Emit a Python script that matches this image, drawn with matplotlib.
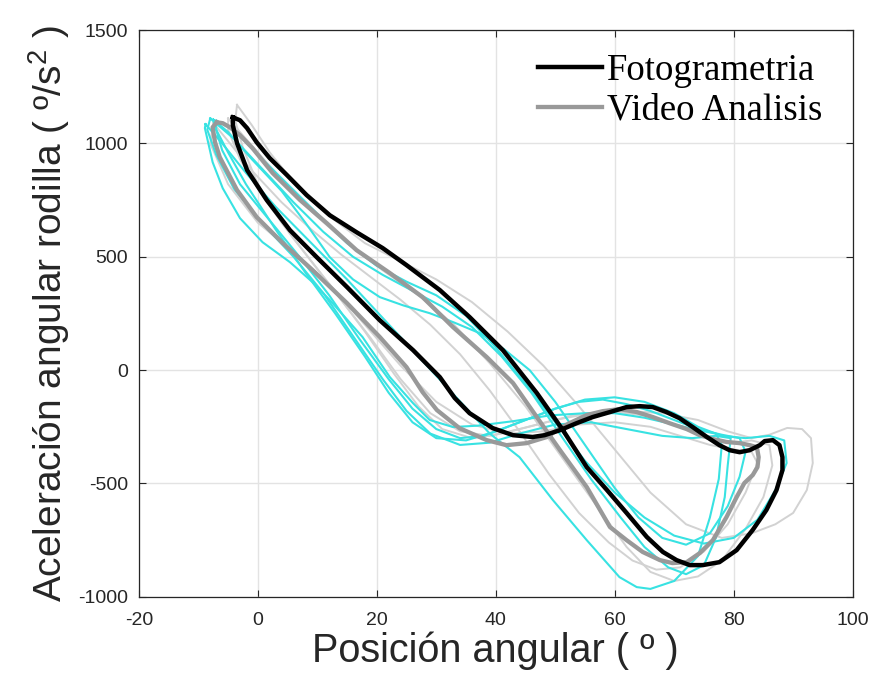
import numpy as np
import matplotlib.pyplot as plt

plt.rcParams['axes.unicode_minus'] = False
plt.rcParams['mathtext.fontset'] = 'custom'
plt.rcParams['mathtext.rm'] = 'Liberation Sans'

# Fotogrametria (black) loop: posicion (deg), aceleracion (deg/s^2)
foto_x = [-4.2, -3.0, -1.8, -0.2, 2.0, 4.9, 8.2, 12.1, 16.6, 21.0, 25.0, 30.6, 35.6, 41.2,
          46.9, 51.3, 55.3, 58.7, 62.0, 65.4, 68.1, 70.4, 72.6, 74.8, 77.6, 80.5, 83.2, 85.5,
          87.2, 88.2, 88.2, 87.7, 86.6, 85.2, 84.4, 82.7, 81.0, 79.3, 77.6, 75.5, 73.1, 70.9,
          68.7, 66.4, 64.2, 62.0, 59.2, 56.3, 53.6, 50.8, 48.2, 46.2, 42.9, 39.5, 35.6, 33.1,
          30.6, 26.1, 20.5, 15.0, 9.9, 5.4, 1.5, -1.8, -3.5, -4.2, -4.2]
foto_y = [1115, 1102, 1067, 1005, 935, 860, 772, 683, 608, 538, 463, 353, 234, 88,
          -101, -265, -428, -529, -630, -736, -802, -838, -860, -860, -847, -794, -705, -617,
          -529, -441, -384, -331, -309, -313, -331, -353, -362, -353, -331, -295, -251, -212,
          -185, -163, -159, -163, -185, -207, -234, -265, -287, -295, -287, -256, -190, -123,
          -31, 88, 220, 366, 498, 617, 750, 882, 1001, 1080, 1115]

# Video Analisis (dark gray) loop
video_x = [-6.9, -5.9, -4.7, -3.0, -0.9, 2.5, 7.1, 11.6, 16.6, 22.2, 27.7, 32.8, 38.5, 42.9,
           46.9, 50.8, 55.3, 59.2, 62.0, 64.7, 67.6, 69.7, 72.1, 74.3, 76.5, 78.8, 80.5, 81.8,
           83.2, 84.0, 84.2, 83.9, 82.7, 81.0, 78.8, 76.5, 74.3, 72.1, 69.2, 66.4, 63.7, 60.8,
           58.0, 55.3, 52.4, 50.8, 48.6, 45.2, 41.8, 38.5, 33.9, 30.1, 27.7, 25.0, 20.5, 15.0,
           9.2, 4.2, -0.2, -3.5, -6.4, -7.2, -7.6, -6.9]
video_y = [1093, 1089, 1071, 1036, 979, 869, 750, 648, 529, 428, 322, 190, 57, -57,
           -207, -353, -516, -692, -750, -802, -838, -851, -847, -807, -750, -648, -560, -498,
           -463, -428, -384, -340, -331, -322, -317, -304, -287, -260, -234, -207, -185, -172,
           -181, -198, -234, -256, -295, -322, -331, -309, -256, -176, -97, 13, 146, 295,
           441, 560, 675, 794, 939, 1005, 1071, 1093]

# individual trials, cyan
cyan1_x = [-8.8, -6, -2, 3, 9, 15, 21, 27, 33, 39, 44, 49.6, 55.3, 60.8, 63.7, 66, 70, 74, 76,
           77.5, 78, 77, 74, 70, 65, 60, 55, 49, 43, 37, 32.8, 28.9, 26.1, 22.2, 17.6, 12.1,
           9.2, 5.4, 0.8, -3, -5.9, -7.6, -8.9, -8.8]
cyan1_y = [1085, 1000, 870, 720, 560, 400, 230, 60, -110, -280, -384, -573, -750, -913, -957,
           -965, -930, -820, -650, -480, -330, -280, -265, -240, -210, -190, -190, -200, -225,
           -245, -251, -220, -146, -31, 146, 309, 388, 476, 564, 670, 802, 917, 1067, 1085]

cyan2_x = [-7, -4, 0, 5, 10, 15, 20, 25, 30, 35, 40, 45, 50, 55, 60, 65, 70, 75, 80, 84, 87,
           88.9, 88.5, 86, 82, 78, 74, 70, 65, 60, 55, 50, 45, 40, 35, 30, 26, 22, 18, 13, 8,
           3, -2, -5, -7, -7]
cyan2_y = [1100, 1060, 950, 820, 690, 560, 460, 390, 330, 240, 100, -60, -230, -400, -540,
           -650, -730, -765, -740, -660, -530, -410, -310, -290, -300, -290, -250, -190, -140,
           -120, -130, -170, -220, -270, -310, -300, -230, -100, 60, 250, 430, 620, 820, 960,
           1060, 1100]

cyan3_x = [-7.5, -5, -1, 4, 8, 12.1, 16, 20.5, 24.5, 28.9, 33, 37.3, 41.5, 45.7, 50, 55, 60,
           64, 68, 72, 76, 79, 81, 82, 81, 78, 74, 70, 66, 62, 58, 54, 50, 46, 42, 38, 34,
           30, 26, 22, 17, 12, 7, 2, -3, -6, -7.5]
cyan3_y = [1105, 1050, 930, 790, 650, 498, 400, 322, 285, 251, 210, 163, 90, 0, -140, -330,
           -520, -650, -740, -770, -720, -600, -470, -360, -300, -285, -260, -220, -180, -150,
           -130, -140, -170, -210, -250, -290, -300, -260, -170, -40, 140, 330, 500, 660, 820,
           970, 1105]

cyan4_x = [-8, -4, 1, 6, 11, 16, 21, 26, 31, 36, 41, 46, 51, 56, 61, 65, 69, 72, 75, 77, 78.5,
           79, 79.5, 77, 73, 68, 62, 56, 50, 44, 39, 34, 29, 25, 21, 16, 11, 6, 1, -4, -7,
           -8.5, -8]
cyan4_y = [1110, 1020, 880, 740, 610, 500, 420, 350, 280, 190, 60, -100, -290, -480, -650,
           -780, -870, -900, -860, -740, -560, -420, -300, -290, -300, -290, -260, -230, -240,
           -280, -320, -330, -280, -180, -40, 150, 340, 500, 640, 800, 950, 1060, 1110]

# individual trials, light gray
gray1_x = [-3.5, -1, 2, 6, 12, 18, 24, 30, 36, 42, 48, 54, 60, 66, 72, 78, 83, 87, 90, 92.3,
           93.3, 93.0, 91.5, 89, 86, 83, 79, 74, 68, 62, 56, 50, 44, 39, 34, 29, 24, 19, 14,
           9, 4, 0, -2.5, -3.8, -3.5]
gray1_y = [1170, 1080, 960, 830, 680, 560, 480, 400, 300, 170, 20, -160, -350, -540, -680,
           -740, -720, -680, -630, -529, -410, -300, -260, -255, -285, -300, -270, -220, -190,
           -180, -190, -220, -260, -290, -270, -190, -40, 140, 310, 480, 650, 820, 980, 1100,
           1170]

gray2_x = [-5, -2, 3, 9, 15, 21, 27, 33, 39, 45, 51, 57, 62, 66, 70, 74, 78, 82, 85, 86.5, 86,
           83, 80, 76, 71, 65, 59, 53, 47, 41, 36, 31, 27, 23, 18, 12, 6, 1, -3, -5, -5]
gray2_y = [1110, 1020, 870, 700, 560, 440, 330, 200, 30, -160, -380, -600, -780, -890, -930,
           -910, -840, -700, -560, -420, -330, -310, -320, -300, -250, -200, -180, -200, -240,
           -280, -300, -260, -160, -20, 170, 380, 580, 760, 930, 1060, 1110]

gray3_x = [-7.5, -5, -1, 4, 9, 14, 19, 24, 29, 34, 39, 44, 49, 54, 59, 63, 67, 71, 75, 79, 82,
           84, 83, 80, 76, 71, 66, 60, 54, 48, 42, 36, 30, 24, 18, 12, 6, 0, -5, -8, -7.5]
gray3_y = [1090, 1010, 880, 740, 620, 510, 410, 310, 200, 70, -90, -270, -460, -630, -760,
           -840, -880, -870, -800, -680, -540, -410, -360, -350, -330, -290, -250, -230, -240,
           -270, -280, -240, -140, 20, 200, 380, 520, 650, 820, 1000, 1090]

plt.figure(figsize=(8.79, 6.9), dpi=100)
ax = plt.axes([0.158, 0.135, 0.812, 0.8215])

for gx, gy in [(gray1_x, gray1_y), (gray2_x, gray2_y), (gray3_x, gray3_y)]:
    ax.plot(gx, gy, color='#d2d2d2', linewidth=1.4, solid_joinstyle='round')
for cx, cy in [(cyan1_x, cyan1_y), (cyan2_x, cyan2_y), (cyan3_x, cyan3_y), (cyan4_x, cyan4_y)]:
    ax.plot(cx, cy, color='#38e2e2', linewidth=1.5, solid_joinstyle='round')

ax.plot(video_x, video_y, color='#999999', linewidth=3.1, label='Video Analisis', zorder=4,
        solid_joinstyle='round')
ax.plot(foto_x, foto_y, color='black', linewidth=3.2, label='Fotogrametria', zorder=5,
        solid_joinstyle='round')

ax.set_xlim(-20, 100)
ax.set_ylim(-1000, 1500)
ax.set_xticks(np.arange(-20, 101, 20))
ax.set_yticks(np.arange(-1000, 1501, 500))
ax.grid(True, color='#e3e3e3', linewidth=1.0)
ax.set_axisbelow(True)
ax.tick_params(direction='in', top=True, right=True, length=5, width=0.8,
               labelsize=14, colors='#262626')
ax.tick_params(axis='x', pad=11)
ax.tick_params(axis='y', pad=8)
for lab in ax.get_xticklabels() + ax.get_yticklabels():
    lab.set_fontfamily('Liberation Sans')
for s in ax.spines.values():
    s.set_color('#262626')
    s.set_linewidth(0.9)

ax.set_xlabel('Posición angular ( º )', fontsize=28.5, family='Liberation Sans',
              color='#262626', labelpad=2)
ax.set_ylabel('Aceleración angular rodilla ( º/s$^{\\mathrm{2}}$ )', fontsize=28,
              family='Liberation Sans', color='#262626', labelpad=4)

h, l = ax.get_legend_handles_labels()
leg = ax.legend([h[1], h[0]], [l[1], l[0]], loc='upper right', frameon=False,
                prop={'family': 'Liberation Serif', 'size': 26.5}, handlelength=1.75,
                handletextpad=0.12, labelspacing=0.13, borderaxespad=0.0,
                bbox_to_anchor=(0.978, 0.984))

plt.savefig('out.png', dpi=100)
